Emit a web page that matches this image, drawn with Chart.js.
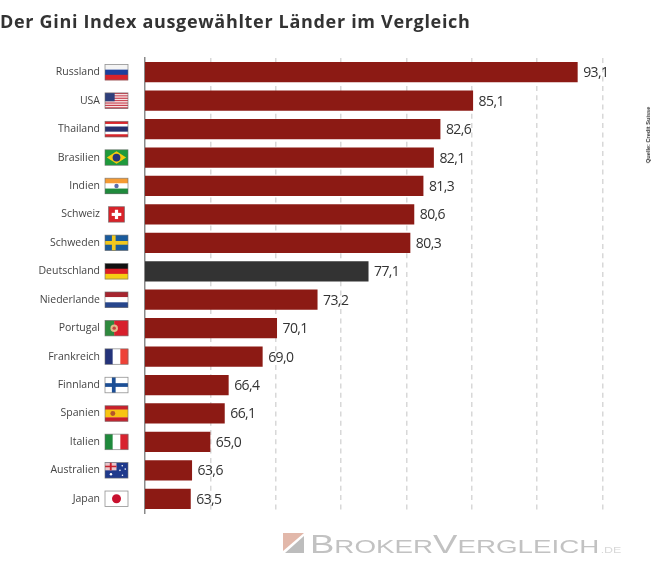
<!DOCTYPE html>
<html lang="de">
<head>
<meta charset="utf-8">
<title>Gini Index</title>
<script src="https://cdn.jsdelivr.net/npm/chart.js@4"></script>
<style>
  html, body { margin: 0; padding: 0; background: #fff; }
  #wrap { position: relative; width: 655px; height: 573px; overflow: hidden; }
  #title { position: absolute; left: 0; top: 9px; font: bold 18px "Open Sans", sans-serif; color: #333; letter-spacing: 0.68px; white-space: nowrap; }
  #source { position: absolute; left: 647.5px; top: 135px; font: bold 5.6px "Liberation Sans", sans-serif; color: #333; white-space: nowrap; transform: translate(-50%, -50%) rotate(-90deg); }
  #logo { position: absolute; left: 283px; top: 533px; width: 21px; height: 20px; }
  #brand { position: absolute; left: 310px; top: 530px; font: 25px/28px "Liberation Sans", sans-serif; color: #c2c2c2; white-space: nowrap; transform-origin: left top; transform: scaleX(1.46); }
  #brand small { font-size: 19px; }
  #brand i { font-style: normal; font-size: 8.5px; color: #d8d8d8; margin-left: 1px; }
</style>
</head>
<body>
<div id="wrap">
  <canvas id="giniChart" width="655" height="573"></canvas>
  <div id="title">Der Gini Index ausgewählter Länder im Vergleich</div>
  <div id="source">Quelle: Credit Suisse</div>
  <svg id="logo" viewBox="0 0 21 20">
    <polygon points="0,0 21,0 0,18" fill="#e2b8aa"/>
    <polygon points="21,3 21,20 2,20" fill="#bdbdbd"/>
  </svg>
  <div id="brand">B<small>ROKER</small>V<small>ERGLEICH</small><i>.DE</i></div>
</div>
<script>
// Werte
const laender = ["Russland", "USA", "Thailand", "Brasilien", "Indien", "Schweiz", "Schweden", "Deutschland",
    "Niederlande", "Portugal", "Frankreich", "Finnland", "Spanien", "Italien", "Australien", "Japan"];
const giniWerte = [93.1, 85.1, 82.6, 82.1, 81.3, 80.6, 80.3, 77.1, 73.2, 70.1, 69.0, 66.4, 66.1, 65.0, 63.6, 63.5];
const xTicks = [60, 65, 70, 75, 80, 85, 90, 95];

const ROT = "#8c1a14";
const DUNKEL = "#333333";

// Streifenflaggen: Farben von oben nach unten bzw. links nach rechts
function streifen(c, x, y, w, h, farben, quer, anteile) {
    const summe = anteile ? anteile.reduce((a, b) => a + b, 0) : farben.length;
    let pos = 0;
    farben.forEach((f, i) => {
        const t = (anteile ? anteile[i] : 1) / summe;
        c.fillStyle = f;
        if (quer) c.fillRect(x, y + pos * h, w, t * h + 0.3);
        else c.fillRect(x + pos * w, y, t * w + 0.3, h);
        pos += t;
    });
}

function kreuz(c, x, y, w, h, grund, farbe) {
    c.fillStyle = grund;
    c.fillRect(x, y, w, h);
    c.fillStyle = farbe;
    c.fillRect(x + w * 0.3, y, h * 0.24, h);
    c.fillRect(x, y + h * 0.38, w, h * 0.24);
}

function kreis(c, x, y, r, farbe) {
    c.fillStyle = farbe;
    c.beginPath();
    c.arc(x, y, r, 0, Math.PI * 2);
    c.fill();
}

const flaggen = {
    Russland: (c, x, y, w, h) => streifen(c, x, y, w, h, ["#f4f4f4", "#1d3f9c", "#d8232a"], true),
    USA: (c, x, y, w, h) => {
        const s = [];
        for (let i = 0; i < 7; i++) s.push("#c8414f", "#f6e4e4");
        streifen(c, x, y, w, h, s.slice(0, 13), true);
        c.fillStyle = "#2f3f7c";
        c.fillRect(x, y, w * 0.42, h * 0.54);
    },
    Thailand: (c, x, y, w, h) => streifen(c, x, y, w, h, ["#d8232a", "#fff", "#27306e", "#fff", "#d8232a"], true, [1, 1, 2, 1, 1]),
    Brasilien: (c, x, y, w, h) => {
        c.fillStyle = "#1f9a3c";
        c.fillRect(x, y, w, h);
        c.fillStyle = "#f5c90f";
        c.beginPath();
        c.moveTo(x + w * 0.08, y + h / 2);
        c.lineTo(x + w / 2, y + h * 0.1);
        c.lineTo(x + w * 0.92, y + h / 2);
        c.lineTo(x + w / 2, y + h * 0.9);
        c.fill();
        kreis(c, x + w / 2, y + h / 2, h * 0.25, "#26337a");
    },
    Indien: (c, x, y, w, h) => {
        streifen(c, x, y, w, h, ["#f59b33", "#fff", "#1f8a3c"], true);
        kreis(c, x + w / 2, y + h / 2, h * 0.14, "#5a6ca8");
    },
    Schweiz: (c, x, y, w, h) => {
        c.fillStyle = "#d8232a";
        c.fillRect(x, y, w, h);
        c.fillStyle = "#fff";
        c.fillRect(x + w * 0.4, y + h * 0.2, w * 0.2, h * 0.6);
        c.fillRect(x + w * 0.2, y + h * 0.4, w * 0.6, h * 0.2);
    },
    Schweden: (c, x, y, w, h) => kreuz(c, x, y, w, h, "#1a5b9c", "#f2c81e"),
    Deutschland: (c, x, y, w, h) => streifen(c, x, y, w, h, ["#111", "#dd1f26", "#f6cd14"], true),
    Niederlande: (c, x, y, w, h) => streifen(c, x, y, w, h, ["#a6252f", "#fff", "#27468c"], true),
    Portugal: (c, x, y, w, h) => {
        streifen(c, x, y, w, h, ["#2f8a3e", "#d81f2c"], false, [2, 3]);
        kreis(c, x + w * 0.4, y + h / 2, h * 0.24, "#e3b98a");
        kreis(c, x + w * 0.4, y + h / 2, h * 0.11, "#c7433c");
    },
    Frankreich: (c, x, y, w, h) => streifen(c, x, y, w, h, ["#24337a", "#fff", "#ee4237"], false),
    Finnland: (c, x, y, w, h) => kreuz(c, x, y, w, h, "#fff", "#1c4f96"),
    Spanien: (c, x, y, w, h) => {
        streifen(c, x, y, w, h, ["#c8202c", "#f8c513", "#c8202c"], true, [1, 2, 1]);
        kreis(c, x + w * 0.34, y + h / 2, h * 0.16, "#b5562b");
    },
    Italien: (c, x, y, w, h) => streifen(c, x, y, w, h, ["#1f8a3c", "#fff", "#d8232f"], false),
    Australien: (c, x, y, w, h) => {
        c.fillStyle = "#1f3a8c";
        c.fillRect(x, y, w, h);
        c.fillStyle = "#e9c6cc";
        c.fillRect(x, y, w * 0.5, h * 0.5);
        c.fillStyle = "#c8202c";
        c.fillRect(x + w * 0.21, y, w * 0.08, h * 0.5);
        c.fillRect(x, y + h * 0.2, w * 0.5, h * 0.1);
        kreis(c, x + w * 0.26, y + h * 0.75, 1.2, "#fff");
        [[0.75, 0.2], [0.88, 0.42], [0.65, 0.5], [0.76, 0.82]].forEach(p => kreis(c, x + w * p[0], y + h * p[1], 0.8, "#fff"));
    },
    Japan: (c, x, y, w, h) => {
        c.fillStyle = "#fff";
        c.fillRect(x, y, w, h);
        kreis(c, x + w / 2, y + h / 2, h * 0.29, "#c8102e");
    }
};

// Flaggen neben den Laendernamen und Werte rechts neben den Balken
const extras = {
    id: "extras",
    afterDatasetsDraw(chart) {
        const c = chart.ctx;
        const yAchse = chart.scales.y;
        const balken = chart.getDatasetMeta(0).data;
        laender.forEach((land, i) => {
            const mitte = yAchse.getPixelForValue(i);
            const w = land === "Schweiz" ? 16 : 23;
            const fx = land === "Schweiz" ? 108.5 : 105;
            const fy = mitte - 7.75;
            c.save();
            flaggen[land](c, fx, fy, w, 15.5);
            c.strokeStyle = "rgba(110,110,110,0.75)";
            c.lineWidth = 0.8;
            c.strokeRect(fx, fy, w, 15.5);
            c.restore();

            c.save();
            c.font = "14px 'Open Sans', sans-serif";
            c.letterSpacing = "-0.6px";
            c.fillStyle = "#333";
            c.textBaseline = "middle";
            c.fillText(giniWerte[i].toFixed(1).replace(".", ","), balken[i].x + 5.5, mitte + 1);
            c.restore();
        });
    }
};

new Chart(document.getElementById("giniChart"), {
    type: "bar",
    plugins: [extras],
    data: {
        labels: laender,
        datasets: [{
            data: giniWerte,
            backgroundColor: laender.map(l => l === "Deutschland" ? DUNKEL : ROT),
            categoryPercentage: 1,
            barPercentage: 0.71
        }]
    },
    options: {
        indexAxis: "y",
        responsive: false,
        animation: false,
        layout: { padding: { top: 58, bottom: 60, right: 52.5, left: 0 } },
        plugins: { legend: { display: false }, tooltip: { enabled: false } },
        scales: {
            x: {
                min: xTicks[0],
                max: xTicks[xTicks.length - 1],
                afterBuildTicks: axis => { axis.ticks = xTicks.map(v => ({ value: v })); },
                ticks: { display: false },
                border: { display: false, dash: [5, 4.3] },
                grid: {
                    drawTicks: false,
                    lineWidth: 1.5,
                    color: ctx => ctx.tick && ctx.tick.value === xTicks[0] ? "transparent" : "#d8d8d8"
                }
            },
            y: {
                afterFit: axis => { axis.width = 145; },
                grid: { display: false, drawTicks: false },
                border: { color: "#8a8a8a", width: 1.5 },
                ticks: {
                    padding: 45,
                    color: "#444",
                    autoSkip: false,
                    font: { family: "'Open Sans', sans-serif", size: 10.5 }
                }
            }
        }
    }
});
</script>
</body>
</html>
